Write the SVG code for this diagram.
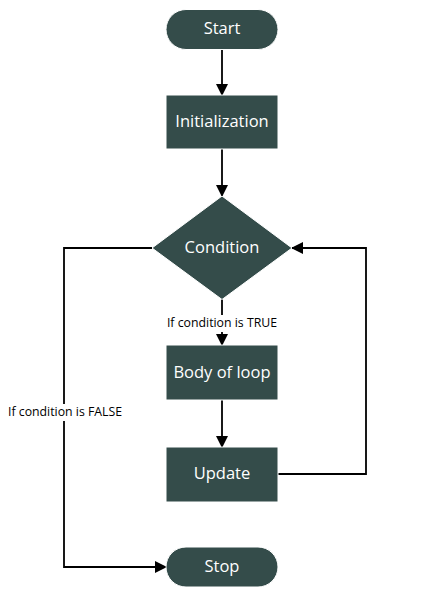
<svg xmlns="http://www.w3.org/2000/svg" width="435" height="598" viewBox="0 0 435 598">
<defs>
<marker id="ah" markerWidth="12" markerHeight="12" refX="11" refY="6" orient="auto" markerUnits="userSpaceOnUse">
<path d="M0,0 L12,6 L0,12 Z" fill="#000"/>
</marker>
<style>
.n{fill:#344c4a;stroke:#fff;stroke-width:1}
.t{fill:#fff;font-family:"Open Sans","Noto Sans",sans-serif;font-size:16.5px;text-anchor:middle;dominant-baseline:central}
.c{fill:none;stroke:#000;stroke-width:1.8}
.l{fill:#000;font-family:"Open Sans","Noto Sans",sans-serif;font-size:12.3px;dominant-baseline:central}
</style>
</defs>
<rect width="435" height="598" fill="#fff"/>
<g id="connectors">
<path class="c" d="M222,49 V95" marker-end="url(#ah)"/>
<path class="c" d="M222,149 V196" marker-end="url(#ah)"/>
<path class="c" d="M222,299 V315"/>
<path class="c" d="M222,332 V345" marker-end="url(#ah)"/>
<path class="c" d="M222,400 V447" marker-end="url(#ah)"/>
<path class="c" d="M278,474 H366 V248 H292" marker-end="url(#ah)"/>
<path class="c" d="M152,248 H64 V567 H166" marker-end="url(#ah)"/>
<rect x="8" y="404" width="114" height="17" fill="#fff"/>
<text class="l" x="222" y="322.5" text-anchor="middle">If condition is TRUE</text>
<text class="l" x="8" y="411.5">If condition is FALSE</text>
</g>
<g id="start"><rect class="n" x="166" y="9.5" width="112" height="40" rx="20"/><text class="t" x="222" y="27.5">Start</text></g>
<g id="init"><rect class="n" x="166" y="95" width="112" height="54"/><text class="t" x="222" y="120.5">Initialization</text></g>
<g id="condition"><polygon class="n" points="222,196 292,248 222,299.5 152,248"/><text class="t" x="222" y="246">Condition</text></g>
<g id="body"><rect class="n" x="166" y="345" width="112" height="55"/><text class="t" x="222" y="371.5">Body of loop</text></g>
<g id="update"><rect class="n" x="166" y="447" width="112" height="55"/><text class="t" x="222" y="472.5">Update</text></g>
<g id="stop"><rect class="n" x="166" y="547" width="112" height="40" rx="20"/><text class="t" x="222" y="565.5">Stop</text></g>
</svg>
